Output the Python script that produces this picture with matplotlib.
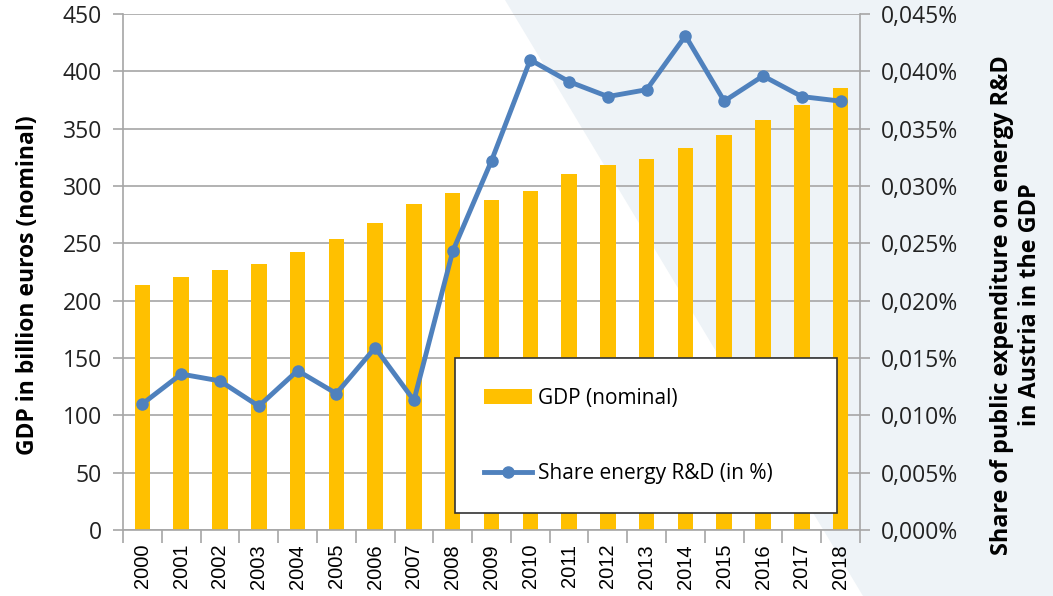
import matplotlib
matplotlib.use("Agg")
import matplotlib.pyplot as plt
from matplotlib.patches import Polygon
from matplotlib.ticker import FixedLocator, FuncFormatter

plt.rcParams['font.family'] = ['Open Sans', 'DejaVu Sans']

# data
years = ["2000", "2001", "2002", "2003", "2004", "2005", "2006", "2007", "2008", "2009",
         "2010", "2011", "2012", "2013", "2014", "2015", "2016", "2017", "2018"]
gdp = [213.6, 220.5, 226.7, 231.9, 242.3, 254.1, 267.8, 283.9, 293.8, 288.0,
       295.9, 310.1, 318.7, 323.9, 333.1, 344.3, 357.6, 370.3, 385.7]
share_rd = [0.0110, 0.0136, 0.0130, 0.0108, 0.0139, 0.0119, 0.0159, 0.0113, 0.0243, 0.0322,
            0.0410, 0.0391, 0.0378, 0.0384, 0.0431, 0.0374, 0.0396, 0.0378, 0.0374]

BAR = '#FFC000'
LINE = '#4F81BD'
GRID = '#A6A6A6'

fig = plt.figure(figsize=(10.53, 5.96), dpi=100)
fig.patch.set_facecolor('white')

# light background wedge on the right, behind everything
wedge = Polygon([(505 / 1053, 1), (1, 1), (1, 0), (863 / 1053, 0)],
                closed=True, transform=fig.transFigure, facecolor='#EEF3F7',
                edgecolor='none', zorder=-10)
fig.patches.append(wedge)

ax = fig.add_axes([123 / 1053, 66 / 596, 737 / 1053, 516 / 596])
ax.set_facecolor('none')
x = list(range(len(years)))
ax.bar(x, gdp, width=0.4, color=BAR, label='GDP (nominal)', zorder=2)
ax.set_xlim(-0.5, len(years) - 0.5)
ax.set_ylim(0, 450)
ax.set_yticks(range(0, 451, 50))
ax.yaxis.grid(True, color=GRID, linewidth=1.2, zorder=1)
ax.set_axisbelow(True)

ax.xaxis.set_major_locator(FixedLocator([i - 0.5 for i in range(len(years) + 1)]))
ax.xaxis.set_major_formatter(FuncFormatter(lambda v, p: ''))
ax.xaxis.set_minor_locator(FixedLocator(x))
ax.set_xticklabels(years, minor=True, rotation=90, fontsize=14.5,
                   family=['Liberation Sans', 'DejaVu Sans'])
ax.tick_params(axis='x', which='major', length=9, color=GRID, width=1.2)
ax.tick_params(axis='x', which='minor', length=0, pad=10)
ax.tick_params(axis='y', length=7, color=GRID, width=1.2, labelsize=16.5,
               labelcolor='#222222', pad=8)

for side in ['top', 'right']:
    ax.spines[side].set_visible(False)
for side in ['left', 'bottom']:
    ax.spines[side].set_color(GRID)
    ax.spines[side].set_linewidth(1.2)

ax.set_ylabel('GDP in billion euros (nominal)', fontsize=16.5, fontweight='bold')
ax.yaxis.set_label_coords(-0.113, 0.475)

ax2 = ax.twinx()
ax2.plot(x, share_rd, color=LINE, linewidth=3.5, marker='o', markersize=8,
         label='Share energy R&D (in %)', zorder=3)
ax2.set_ylim(0, 0.045)
ax2.set_yticks([i * 0.005 for i in range(10)])
ax2.yaxis.set_major_formatter(FuncFormatter(lambda v, p: f"{v:.3f}%".replace('.', ',')))
ax2.tick_params(axis='y', length=7, color=GRID, width=1.2, labelsize=16.5,
                labelcolor='#222222', pad=8)
for side in ['top', 'left', 'bottom']:
    ax2.spines[side].set_visible(False)
ax2.spines['right'].set_color(GRID)
ax2.spines['right'].set_linewidth(1.2)
ax2.set_ylabel('Share of public expenditure on energy R&D\nin Austria in the GDP',
               fontsize=16.8, fontweight='bold', linespacing=1.25)
ax2.yaxis.set_label_coords(1.176, 0.436)

h1, l1 = ax.get_legend_handles_labels()
h2, l2 = ax2.get_legend_handles_labels()
leg = ax2.legend(h1 + h2, l1 + l2, loc='lower left',
                 bbox_to_anchor=(0.45, 0.033, 0.519, 0.293), mode='expand',
                 fontsize=15, frameon=True, fancybox=False, framealpha=1,
                 edgecolor='#333333', borderpad=1.4, labelspacing=2.6,
                 handlelength=2.3, handletextpad=0.3, borderaxespad=0)
leg.get_frame().set_linewidth(1.2)

fig.savefig('out.png', dpi=100, facecolor=fig.get_facecolor())
